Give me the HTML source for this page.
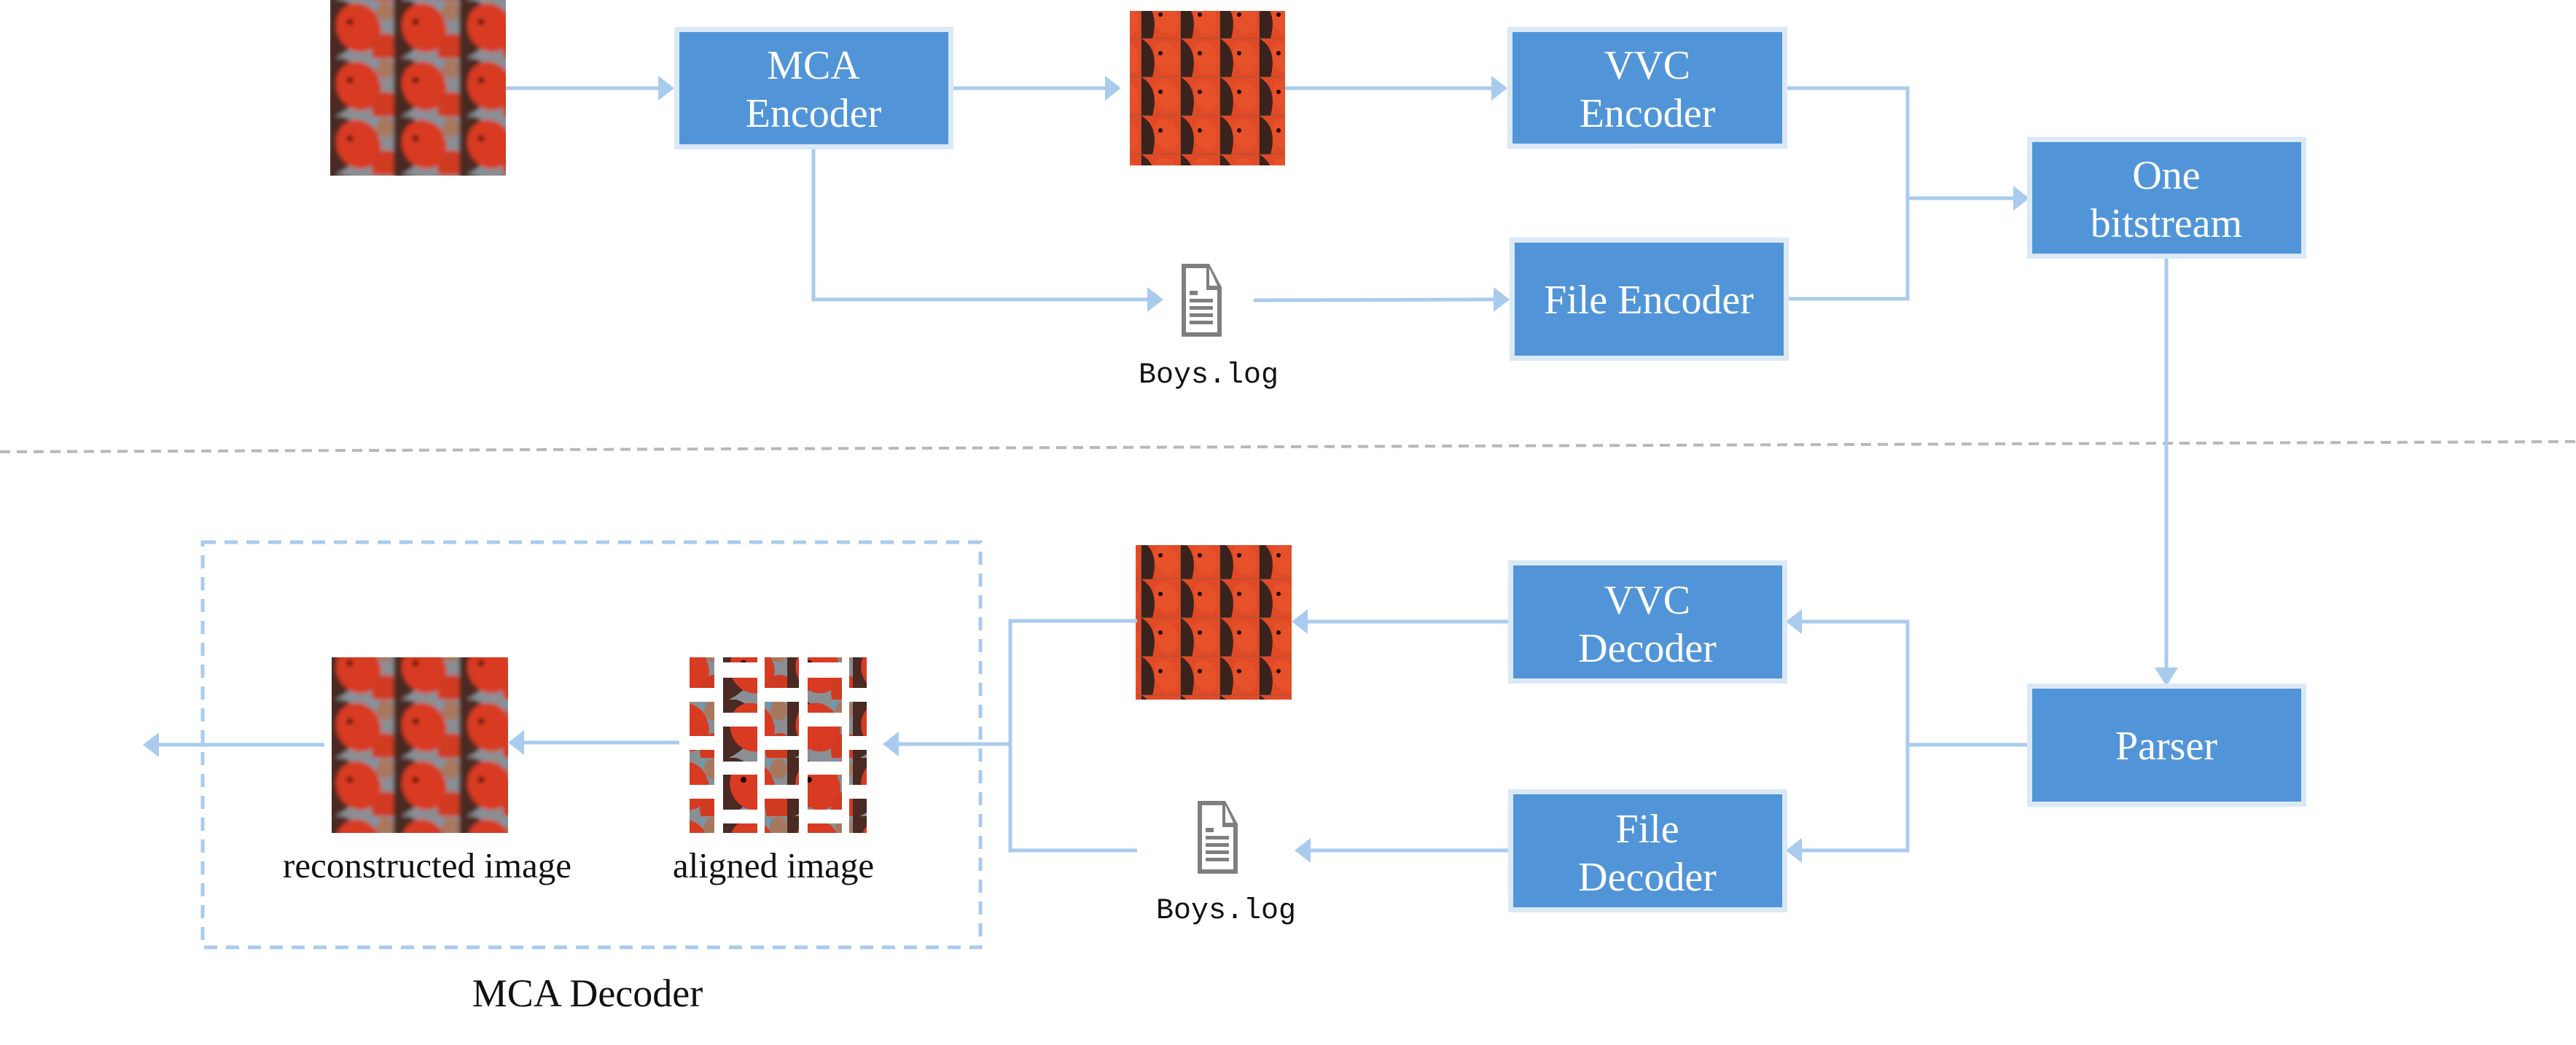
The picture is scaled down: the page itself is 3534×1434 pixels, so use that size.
<!DOCTYPE html>
<html><head><meta charset="utf-8"><style>
html,body{margin:0;padding:0;background:#fff}
body{width:3534px;height:1429px;overflow:hidden}
text{font-family:"Liberation Serif",serif}
</style></head><body>
<svg width="3534" height="1429" viewBox="0 0 3534 1429" xmlns="http://www.w3.org/2000/svg">
<defs>
<filter id="blur"><feGaussianBlur stdDeviation="3"/></filter>
<pattern id="tex" width="90" height="80" patternUnits="userSpaceOnUse">
<rect width="90" height="80" fill="#8a8f94"/>
<path d="M20 0 q30 10 25 40 q-5 25 -35 40 l-10 0 0 -80z" fill="#4a2a22"/>
<ellipse cx="42" cy="38" rx="30" ry="34" fill="#d83a22" transform="rotate(-25 42 38)"/>
<ellipse cx="80" cy="70" rx="20" ry="24" fill="#d03a20"/>
<circle cx="30" cy="30" r="4" fill="#200"/>
<path d="M62 5 q15 10 10 25" stroke="#5aa0c8" stroke-width="5" fill="none"/>
<ellipse cx="78" cy="15" rx="12" ry="14" fill="#a8785e"/>
</pattern>
<pattern id="tex2" width="54" height="53" patternUnits="userSpaceOnUse">
<rect width="54" height="53" fill="#e04a26"/>
<path d="M0 0 q25 15 15 53 l-15 0z" fill="#3a231d"/>
<ellipse cx="34" cy="26" rx="16" ry="22" fill="#e6512a" transform="rotate(-20 34 26)"/>
<circle cx="26" cy="20" r="3" fill="#200"/>
<rect x="53" y="0" width="1" height="53" fill="#6a5a55" opacity=".5"/>
<rect x="0" y="52" width="54" height="1" fill="#6a5a55" opacity=".5"/>
</pattern>
<clipPath id="al">
<rect x="946" y="902" width="34" height="42"/><rect x="946" y="963" width="34" height="47"/><rect x="946" y="1029" width="34" height="48"/><rect x="946" y="1096" width="34" height="47"/>
<rect x="992" y="902" width="47" height="7"/><rect x="992" y="930" width="47" height="48"/><rect x="992" y="997" width="47" height="48"/><rect x="992" y="1063" width="47" height="48"/><rect x="992" y="1130" width="47" height="13"/>
<rect x="1049" y="902" width="47" height="42"/><rect x="1049" y="963" width="47" height="47"/><rect x="1049" y="1029" width="47" height="48"/><rect x="1049" y="1096" width="47" height="47"/>
<rect x="1108" y="902" width="47" height="7"/><rect x="1108" y="930" width="47" height="48"/><rect x="1108" y="997" width="47" height="48"/><rect x="1108" y="1063" width="47" height="48"/><rect x="1108" y="1130" width="47" height="13"/>
<rect x="1165" y="902" width="24" height="42"/><rect x="1165" y="963" width="24" height="47"/><rect x="1165" y="1029" width="24" height="48"/><rect x="1165" y="1096" width="24" height="47"/>
</clipPath>
<clipPath id="c1"><rect x="453" y="0" width="241" height="241"/></clipPath>
<clipPath id="c2"><rect x="455" y="902" width="242" height="241"/></clipPath>
<g id="doc">
<path d="M0 0 h38 l17 32 v68 h-55z" fill="#7f7f7f"/>
<path d="M6 6 h28 v30 h15 v58 h-43z" fill="#fff"/>
<path d="M38 6 l11 24 h-11z" fill="#fff"/>
<rect x="11" y="37" width="11" height="6" fill="#7f7f7f"/>
<rect x="11" y="48" width="32" height="5" fill="#7f7f7f"/><rect x="11" y="58" width="32" height="5" fill="#7f7f7f"/><rect x="11" y="68" width="32" height="5" fill="#7f7f7f"/><rect x="11" y="78" width="32" height="5" fill="#7f7f7f"/>
</g>
</defs>

<line x1="0" y1="620" x2="3534" y2="606" stroke="#b8b8b8" stroke-width="4" stroke-dasharray="14 9"/>

<g clip-path="url(#c1)"><rect x="445" y="-8" width="257" height="257" fill="url(#tex)" filter="url(#blur)"/></g>
<rect x="1550" y="15" width="213" height="212" fill="url(#tex2)"/>
<rect x="1558" y="748" width="214" height="212" fill="url(#tex2)"/>
<g clip-path="url(#c2)"><rect x="447" y="894" width="258" height="257" fill="url(#tex)" filter="url(#blur)"/></g>
<rect x="946" y="902" width="243" height="241" fill="url(#tex)" clip-path="url(#al)"/>

<use href="#doc" x="1621" y="362"/>
<use href="#doc" x="1643" y="1099"/>

<g stroke="#a9cbee" stroke-width="5" fill="none">
<line x1="694" y1="121" x2="905" y2="121"/>
<line x1="1308" y1="121" x2="1525" y2="121"/>
<line x1="1763" y1="121" x2="2050" y2="121"/>
<polyline points="1116,205 1116,411 1578,411"/>
<line x1="1720" y1="412" x2="2052" y2="411"/>
<polyline points="2452,121 2617,121 2617,410 2454,410"/>
<line x1="2617" y1="272" x2="2765" y2="272"/>
<line x1="2972" y1="355" x2="2972" y2="922"/>
<line x1="2781" y1="1022" x2="2617" y2="1022"/>
<polyline points="2468,853 2617,853 2617,1167 2468,1167"/>
<line x1="2069" y1="853" x2="1792" y2="853"/>
<line x1="2069" y1="1167" x2="1796" y2="1167"/>
<polyline points="1560,852 1386,852 1386,1167 1560,1167"/>
<line x1="1386" y1="1021" x2="1230" y2="1021"/>
<line x1="932" y1="1019" x2="717" y2="1019"/>
<line x1="445" y1="1022" x2="214" y2="1022"/>
</g>
<g fill="#a9cbee">
<path d="M925 121 l-22 -17 v34z"/>
<path d="M1538 121 l-22 -17 v34z"/>
<path d="M2068 121 l-22 -17 v34z"/>
<path d="M1596 411 l-22 -17 v34z"/>
<path d="M2071 411 l-22 -17 v34z"/>
<path d="M2784 272 l-22 -17 v34z"/>
<path d="M2972 942 l-16 -26 h32z"/>
<path d="M2450 853 l22 -17 v34z"/>
<path d="M2450 1167 l22 -17 v34z"/>
<path d="M1772 853 l22 -17 v34z"/>
<path d="M1776 1167 l22 -17 v34z"/>
<path d="M1211 1021 l22 -17 v34z"/>
<path d="M697 1019 l22 -17 v34z"/>
<path d="M196 1022 l22 -17 v34z"/>
</g>

<g fill="#5195d8" stroke="#dbe8f6" stroke-width="7">
<rect x="928.5" y="40.5" width="376" height="161"/>
<rect x="2071.5" y="40.5" width="377" height="160"/>
<rect x="2074.5" y="329.5" width="376" height="162"/>
<rect x="2784.5" y="191.5" width="376" height="160"/>
<rect x="2072.5" y="772.5" width="376" height="162"/>
<rect x="2072.5" y="1086.5" width="376" height="162"/>
<rect x="2784.5" y="941.5" width="376" height="162"/>
</g>
<g fill="#fff" font-size="56" text-anchor="middle">
<text x="1116" y="108">MCA</text><text x="1116" y="174">Encoder</text>
<text x="2260" y="108">VVC</text><text x="2260" y="174">Encoder</text>
<text x="2262" y="430">File Encoder</text>
<text x="2972" y="259">One</text><text x="2972" y="325">bitstream</text>
<text x="2260" y="842">VVC</text><text x="2260" y="908">Decoder</text>
<text x="2260" y="1156">File</text><text x="2260" y="1222">Decoder</text>
<text x="2972" y="1042">Parser</text>
</g>

<g font-size="40" text-anchor="middle" fill="#111">
<text x="1658" y="525" style="font-family:'Liberation Mono',monospace">Boys.log</text>
<text x="1682" y="1260" style="font-family:'Liberation Mono',monospace">Boys.log</text>
</g>

<rect x="278" y="744" width="1067" height="556" fill="none" stroke="#a9cbee" stroke-width="5" stroke-dasharray="18 12"/>
<g font-size="49" text-anchor="middle" fill="#111">
<text x="586" y="1204">reconstructed image</text>
<text x="1061" y="1204">aligned image</text>
<text x="806" y="1381" font-size="54">MCA Decoder</text>
</g>
</svg>
</body></html>
